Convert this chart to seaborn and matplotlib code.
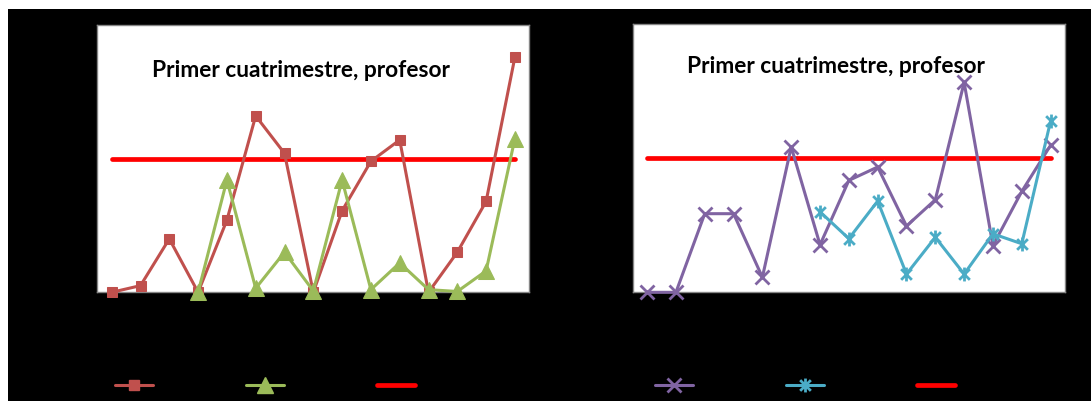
import matplotlib
matplotlib.use("Agg")
import numpy as np
import pandas as pd
import seaborn as sns
import matplotlib.pyplot as plt
from matplotlib.lines import Line2D
from matplotlib.patches import Rectangle
from matplotlib.path import Path

# categories (15 sessions)
sesiones = list(range(1, 16))
nan = np.nan
grupo_a = [0, 0.25, 2.0, 0, 2.7, 6.6, 5.2, 0, 3.05, 4.9, 5.7, 0, 1.5, 3.4, 8.8]
grupo_b = [nan, nan, nan, 0, 4.2, 0.15, 1.5, 0.05, 4.2, 0.1, 1.1, 0.1, 0.03, 0.8, 5.75]
grupo_c = [0, 0, 2.93, 2.93, 0.56, 5.42, 1.77, 4.17, 4.67, 2.47, 3.45, 7.82, 1.74, 3.76, 5.48]
grupo_d = [nan, nan, nan, nan, nan, nan, 3.0, 2.0, 3.4, 0.68, 2.05, 0.68, 2.18, 1.81, 6.38]
media = [5] * 15
titulo = "Primer cuatrimestre, profesor"
etiquetas_izq = ["Alumnos 1", "Alumnos 2", "Media"]
etiquetas_der = ["Alumnos 3", "Alumnos 4", "Media"]

sns.set_theme(style="white")
plt.rcParams['font.family'] = ['Lato', 'DejaVu Sans']

W, H = 1091, 402
fig = plt.figure(figsize=(W / 100, H / 100), dpi=100)
fig.patch.set_facecolor("white")
fig.patches.append(Rectangle((8 / W, 0), 1, 1 - 10 / H, transform=fig.transFigure,
                             facecolor="black", edgecolor="none", zorder=-10))

ax1 = fig.add_axes([97.3 / W, 1 - 293.3 / H, 432 / W, 267.3 / H])
ax2 = fig.add_axes([632.7 / W, 1 - 293.3 / H, 432.3 / W, 268.3 / H])

df1 = pd.DataFrame({"s": sesiones, "a": grupo_a, "b": grupo_b, "m": media})
df2 = pd.DataFrame({"s": sesiones, "c": grupo_c, "d": grupo_d, "m": media})

RED, GREEN, PURPLE, CYAN, MEAN = "#C0504D", "#9BBB59", "#8064A2", "#4BACC6", "#FF0000"

# Excel-like star marker: an X with a vertical bar
estrella = Path([(-1, -1), (1, 1), (-1, 1), (1, -1), (0, -1.3), (0, 1.3)],
                [Path.MOVETO, Path.LINETO, Path.MOVETO, Path.LINETO, Path.MOVETO, Path.LINETO])

sns.lineplot(data=df1, x="s", y="m", ax=ax1, color=MEAN, linewidth=3.4, zorder=2)
sns.lineplot(data=df1, x="s", y="a", ax=ax1, color=RED, linewidth=2.2, marker="s",
             markersize=7.2, markeredgecolor=RED, zorder=3)
sns.lineplot(data=df1, x="s", y="b", ax=ax1, color=GREEN, linewidth=2.2, marker="^",
             markersize=11, markeredgecolor=GREEN, zorder=4)

sns.lineplot(data=df2, x="s", y="m", ax=ax2, color=MEAN, linewidth=3.4, zorder=2)
sns.lineplot(data=df2, x="s", y="c", ax=ax2, color=PURPLE, linewidth=2.2, marker="x",
             markersize=10.5, markeredgewidth=2, markeredgecolor=PURPLE, zorder=3)
sns.lineplot(data=df2, x="s", y="d", ax=ax2, color=CYAN, linewidth=2.2, marker=estrella,
             markersize=10, markeredgewidth=2, markeredgecolor=CYAN, zorder=4)

for ax, tx, ty in ((ax1, 0.472, 0.809), (ax2, 0.47, 0.821)):
    ax.set_xlim(0.5, 15.5)
    ax.set_ylim(0, 10)
    ax.set_facecolor("white")
    ax.set_xlabel("")
    ax.set_ylabel("")
    ax.set_xticks(sesiones)
    ax.tick_params(colors="black", labelsize=9)
    for sp in ax.spines.values():
        sp.set_color("#868686")
        sp.set_linewidth(1)
        sp.set_visible(True)
    ax.text(tx, ty, titulo, transform=ax.transAxes, ha="center", va="baseline",
            fontsize=16.4, fontweight="bold", color="black")
    for line in ax.lines:
        line.set_clip_on(False)

h_izq = [Line2D([], [], color=RED, lw=2.2, marker="s", ms=7.2),
         Line2D([], [], color=GREEN, lw=2.2, marker="^", ms=11),
         Line2D([], [], color=MEAN, lw=3.4)]
h_der = [Line2D([], [], color=PURPLE, lw=2.2, marker="x", ms=10.5, mew=2),
         Line2D([], [], color=CYAN, lw=2.2, marker=estrella, ms=10, mew=2),
         Line2D([], [], color=MEAN, lw=3.4)]
for handles, labels, x0 in ((h_izq, etiquetas_izq, 115), (h_der, etiquetas_der, 655)):
    fig.legend(handles, labels, loc="center left", bbox_to_anchor=(x0 / W, 1 - 387 / H),
               ncol=3, frameon=False, handlelength=2.7, columnspacing=1.56, handletextpad=0.5,
               labelcolor="black", fontsize=10, borderaxespad=0, borderpad=0)

fig.savefig("out.png", dpi=100, facecolor=fig.get_facecolor())
